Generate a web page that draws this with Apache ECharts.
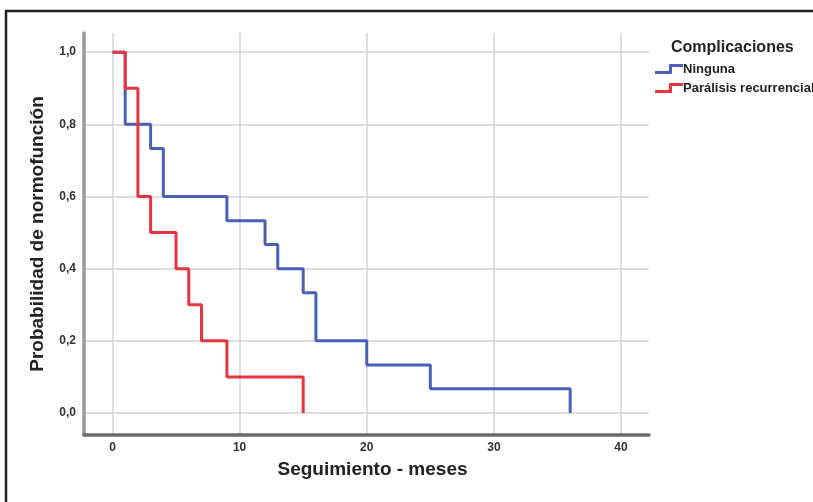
<!DOCTYPE html>
<html>
<head>
<meta charset="utf-8">
<script src="https://cdn.jsdelivr.net/npm/echarts@6/dist/echarts.min.js"></script>
<style>
html,body{margin:0;padding:0;background:#fff;}
#chart{width:813px;height:502px;}
</style>
</head>
<body>
<div id="chart"></div>
<script>
// Data (Kaplan-Meier style step curves)
var ningunaTimes = [0, 1, 3, 4, 9, 12, 13, 15, 16, 20, 25, 36];
var ningunaSurv  = [1, 0.8, 0.733, 0.6, 0.533, 0.467, 0.4, 0.333, 0.2, 0.133, 0.067, 0];
var paralisisTimes = [0, 1, 2, 3, 5, 6, 7, 9, 15];
var paralisisSurv  = [1, 0.9, 0.6, 0.5, 0.4, 0.3, 0.2, 0.1, 0];
var xTicks = [0, 10, 20, 30, 40];
var yTicks = [0, 0.2, 0.4, 0.6, 0.8, 1.0];
var seriesNames = ['Ninguna', 'Parálisis recurrencial'];
var legendTitle = 'Complicaciones';
var xTitle = 'Seguimiento - meses';
var yTitle = 'Probabilidad de normofunción';

function pairs(xs, ys) { return xs.map(function (x, i) { return [x, ys[i]]; }); }

var FONT = '"Liberation Sans Narrow", "Arial Narrow", "Liberation Sans", sans-serif';
var chart = echarts.init(document.getElementById('chart'), null, {renderer: 'canvas'});
var stepIcon = 'path://M0,7 L13,7 Q14,7 14,6 L14,1 Q14,0 15,0 L28,0 L28,3 L17,3 L17,9 Q17,10 16,10 L0,10 Z';

chart.setOption({
  animation: false,
  backgroundColor: '#fff',
  title: {
    text: legendTitle,
    left: 666, top: 35,
    textStyle: {fontFamily: FONT, fontWeight: 'bold', fontSize: 16, color: '#222'}
  },
  legend: {
    orient: 'vertical',
    left: 650, top: 57,
    itemWidth: 28, itemHeight: 10, itemGap: 5,
    icon: stepIcon,
    data: seriesNames,
    textStyle: {fontFamily: FONT, fontWeight: 'bold', fontSize: 13, color: '#222', lineHeight: 14, padding: [0,0,0,-5]}
  },
  graphic: [{
    type: 'rect', silent: true, z: 100,
    shape: {x: 6, y: 11, width: 900, height: 700},
    style: {fill: 'none', stroke: '#222', lineWidth: 2.5}
  }],
  grid: {left: 84, right: 164, top: 33, bottom: 67},
  xAxis: {
    type: 'value', min: -2.24, max: 42.2,
    name: xTitle, nameLocation: 'middle', nameGap: 25,
    nameTextStyle: {fontFamily: FONT, fontWeight: 'bold', fontSize: 19, color: '#222', padding: [0,0,0,12]},
    axisLine: {show: true, onZero: false, lineStyle: {color: '#6a6a6a', width: 3.5}},
    axisTick: {show: true, length: 0, customValues: xTicks, lineStyle: {opacity: 0}},
    axisLabel: {customValues: xTicks, margin: 7, fontFamily: FONT, fontWeight: 'bold', fontSize: 12, color: '#333'},
    splitLine: {show: true, lineStyle: {color: '#d4d4d4', width: 1.5}}
  },
  yAxis: {
    type: 'value', min: -0.061, max: 1.053,
    name: yTitle, nameLocation: 'middle', nameGap: 37,
    nameTextStyle: {fontFamily: FONT, fontWeight: 'bold', fontSize: 19, color: '#222'},
    axisLine: {show: true, onZero: false, lineStyle: {color: '#9a9a9a', width: 3.5}},
    axisTick: {show: true, length: 0, customValues: yTicks, lineStyle: {opacity: 0}},
    axisLabel: {customValues: yTicks, margin: 8, fontFamily: FONT, fontWeight: 'bold', fontSize: 12, color: '#333',
      formatter: function (v) { return v.toFixed(1).replace('.', ','); }},
    splitLine: {show: true, lineStyle: {color: '#d4d4d4', width: 1.5}}
  },
  series: [{
    name: seriesNames[0], type: 'line', step: 'end', symbol: 'none',
    data: pairs(ningunaTimes, ningunaSurv),
    itemStyle: {color: '#4a5fb8'},
    lineStyle: {color: '#4a5fb8', width: 3}
  }, {
    name: seriesNames[1], type: 'line', step: 'end', symbol: 'none',
    data: pairs(paralisisTimes, paralisisSurv),
    itemStyle: {color: '#e8343e'},
    lineStyle: {color: '#e8343e', width: 3}
  }]
});
</script>
</body>
</html>
